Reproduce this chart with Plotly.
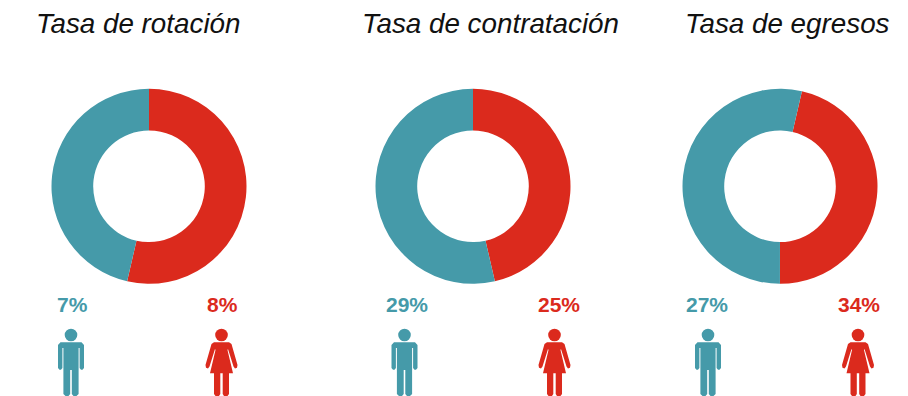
import plotly.graph_objects as go

titles = ["Tasa de rotación", "Tasa de contratación", "Tasa de egresos"]
series_labels = ["Mujeres", "Hombres"]
women_slice = [53.6, 46.4, 46.4]
men_slice = [46.4, 53.6, 53.6]
men_pct = ["7%", "29%", "27%"]
women_pct = ["8%", "25%", "34%"]
rotations = [0, 0, 13]

# The page's body margin shifts the figure by 8 px, so all layout below is in page pixels.
OFF = 8
W, H = 908 - OFF, 396 - OFF
RED, TEAL = "#db2a1d", "#459aa9"
FONT = "Liberation Sans"
centers = [149, 473, 780]
title_x = [138, 491, 787]
men_label_x = [72.5, 406.5, 706.5]
women_label_x = [222.5, 558.5, 858.5]
men_icon_x = [71, 404.5, 708]
women_icon_x = [221.5, 554.5, 858]
R = 97.5
CY = 186.3


def px(x):
    return (x - OFF) / W


def py(y):
    return 1 - (y - OFF) / H


def head(cx):
    r, cy = 6.3, 335
    return dict(type="circle", xref="paper", yref="paper",
                x0=px(cx - r), x1=px(cx + r), y0=py(cy + r), y1=py(cy - r))


MAN = [(-10.5, 342.3), (10.5, 342.3), (13, 345), (13, 368), (11.5, 369.7), (10, 369.7), (8.6, 368),
       (8.6, 348), (7.6, 348), (7.6, 394), (5.5, 396), (2.5, 396), (0.8, 394), (0.8, 370), (-0.8, 370),
       (-0.8, 394), (-2.5, 396), (-5.5, 396), (-7.6, 394), (-7.6, 348), (-8.6, 348), (-8.6, 368),
       (-10, 369.7), (-11.5, 369.7), (-13, 368), (-13, 345)]
WOMAN = [(-7.5, 342.3), (7.5, 342.3), (10, 344), (16, 365), (15.5, 367.7), (13.5, 368.5), (12, 366.5),
         (6.5, 349), (6, 350), (11.5, 373.3), (7.5, 373.3), (7.5, 394), (6, 396), (2.5, 396), (1.2, 394),
         (1.2, 373.3), (-1.2, 373.3), (-1.2, 394), (-2.5, 396), (-6, 396), (-7.5, 394), (-7.5, 373.3),
         (-11.5, 373.3), (-6, 350), (-6.5, 349), (-12, 366.5), (-13.5, 368.5), (-15.5, 367.7), (-16, 365),
         (-10, 344)]


def body(cx, pts):
    return "M" + " L".join(f"{px(cx + x):.5f},{py(y):.5f}" for x, y in pts) + " Z"


def note(x, y, text, size, color):
    return dict(x=px(x), y=py(y), xref="paper", yref="paper", text=text, showarrow=False,
                font=dict(family=FONT, size=size, color=color), xanchor="center", yanchor="middle")


fig = go.Figure()
shapes, annotations = [], []
for i in range(3):
    fig.add_trace(go.Pie(
        labels=series_labels,
        values=[women_slice[i], men_slice[i]],
        hole=55.8 / R,
        sort=False,
        direction="clockwise",
        rotation=rotations[i],
        marker=dict(colors=[RED, TEAL], line=dict(width=0)),
        textinfo="none",
        showlegend=False,
        domain=dict(x=[px(centers[i] - R), px(centers[i] + R)],
                    y=[py(CY + R), py(CY - R)]),
    ))
    annotations.append(note(title_x[i], 24, f"<i>{titles[i]}</i>", 27.8, "#111111"))
    annotations.append(note(men_label_x[i], 304, f"<b>{men_pct[i]}</b>", 21, TEAL))
    annotations.append(note(women_label_x[i], 304, f"<b>{women_pct[i]}</b>", 21, RED))
    for cx, pts, col in ((men_icon_x[i], MAN, TEAL), (women_icon_x[i], WOMAN, RED)):
        shapes.append(dict(**head(cx), fillcolor=col, line_width=0, layer="above"))
        shapes.append(dict(type="path", xref="paper", yref="paper", path=body(cx, pts),
                           fillcolor=col, line_width=0, layer="above"))

fig.update_layout(
    width=W, height=H, margin=dict(l=0, r=0, t=0, b=0),
    paper_bgcolor="white", plot_bgcolor="white",
    shapes=shapes, annotations=annotations,
)
fig.write_html("out.html")
